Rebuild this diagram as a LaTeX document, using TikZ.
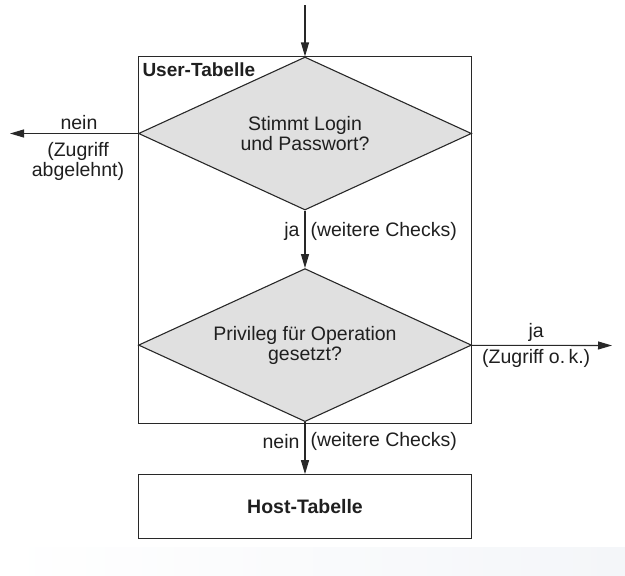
\documentclass[tikz,border=0pt]{standalone}
\usepackage{fontspec}
\setmainfont{Liberation Sans}
\usetikzlibrary{shapes.geometric, positioning, arrows.meta}
\definecolor{linegray}{RGB}{40,40,40}
\definecolor{diafill}{RGB}{224,224,224}
\definecolor{bandgray}{RGB}{244,246,249}
\tikzset{
        every edge/.style={draw, ->},  % only the edges are directed
        >={Triangle[length=14pt,width=8pt]}, % filled heads
        every picture/.style={x=1pt, y=-1pt, line width=1.1pt, draw=linegray},
        every node/.style={font=\fontsize{19.5}{20}\selectfont, text=black!88},
        decision/.style={diamond, draw, fill=diafill, inner sep=0pt, shape aspect=2.18,
                         minimum width=333pt, minimum height=153pt, align=center},
        tablebox/.style={rectangle, draw, inner sep=0pt, minimum width=333pt}
        }
\begin{document}
\begin{tikzpicture}
        \useasboundingbox (0,0) rectangle (625,576);
        \shade[left color=white, right color=bandgray, draw=none] (0,547) rectangle (625,576);
        \node[decision](login) at (305,133.5){Stimmt Login\\und Passwort?};
        \node[decision, below=57.5pt of login](priv){Privileg für Operation\\gesetzt?};
        \node[tablebox, minimum height=367pt, anchor=north](user) at ([yshift=0.5pt]login.north){};
        \node[tablebox, minimum height=64pt, below=52pt of priv](host){\bfseries Host-Tabelle};
        \node[anchor=north west, inner sep=2pt, font=\fontsize{19}{20}\selectfont\bfseries]
              at ([shift={(2pt,-4pt)}]user.north west){User-Tabelle};
        \coordinate (start) at (305,5);
        \coordinate (denied) at (10,133.5);
        \coordinate (granted) at (612,345.5);
        \path (start) edge (login)
              (login) edge node[above, xshift=5pt]{nein}
                           node[below, align=center, inner sep=8pt, xshift=4pt]{(Zugriff\\abgelehnt)} (denied)
              (login) edge node[pos=0.36, left, inner sep=5pt]{ja}
                           node[pos=0.36, right, inner sep=5pt]{(weitere Checks)} (priv)
              (priv) edge node[pos=0.46, above]{ja}
                          node[pos=0.46, below]{(Zugriff o.\,k.)} (granted)
              (priv) edge node[pos=0.38, left, inner sep=5pt]{nein}
                          node[pos=0.38, right, inner sep=5pt]{(weitere Checks)} (host);
\end{tikzpicture}
\end{document}
